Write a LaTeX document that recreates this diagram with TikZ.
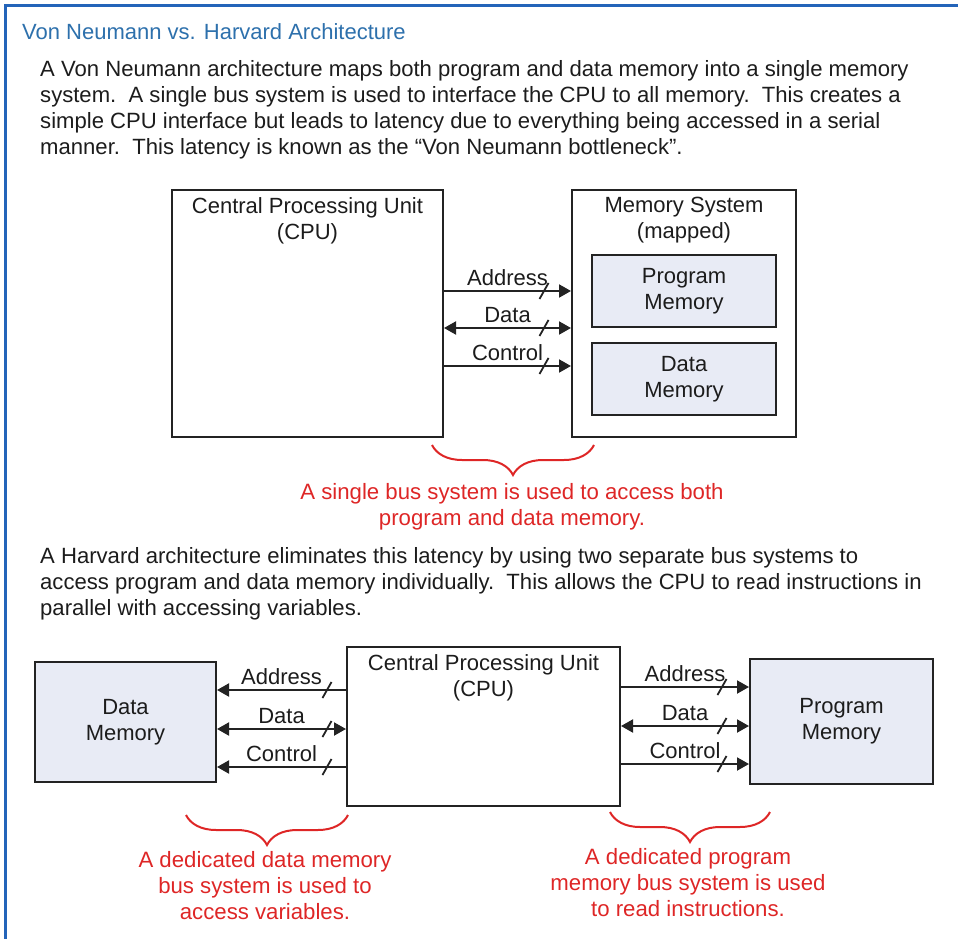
\documentclass[tikz,border=0pt]{standalone}
\usepackage{fontspec}
\setmainfont{Liberation Sans}
\usetikzlibrary{arrows.meta,decorations.pathreplacing,decorations.markings}

\definecolor{frameblue}{RGB}{35,100,185}
\definecolor{titleblue}{RGB}{45,112,172}
\definecolor{memfill}{RGB}{232,235,245}
\definecolor{bracered}{RGB}{222,38,38}
\definecolor{boxgray}{RGB}{35,35,35}
\definecolor{txtgray}{RGB}{28,28,28}

\tikzset{
  unitbox/.style={draw=boxgray, line width=2pt, inner sep=0pt},
  membox/.style={unitbox, fill=memfill, align=center, text=txtgray,
    font=\fontsize{22}{26}\selectfont},
  tip/.tip={Triangle[length=12pt,width=13pt]},
  bus/.style={draw=boxgray, line width=2pt, -tip},
  busboth/.style={bus, tip-tip},
  slashat/.style={postaction={decorate, decoration={markings,
    mark=at position #1 with {\draw[-, boxgray, line width=1.8pt] (-4.5pt,-8pt) -- (4.5pt,8pt);}}}},
  buslabel/.style={font=\fontsize{22}{26}\selectfont, text=txtgray, inner sep=0pt},
  bracebus/.style={draw=bracered, line width=2pt, decorate,
    decoration={brace, mirror, amplitude=30pt}},
  note/.style={text=bracered, align=center, inner sep=0pt, anchor=base,
    font=\fontsize{22.2}{26}\selectfont},
  para/.style={text=txtgray, align=left, inner sep=0pt, anchor=base west,
    font=\fontsize{22.1}{26}\selectfont}
}

\begin{document}
\begin{tikzpicture}[x=1pt, y=-1pt]
  \useasboundingbox (0,0) rectangle (958,939);

  % Rahmen und Titel
  \draw[frameblue, line width=3pt] (5.5,939) -- (5.5,5.5) -- (958,5.5);
  \node[anchor=base west, inner sep=0pt, text=titleblue,
    font=\fontsize{22}{26}\selectfont] (title) at (22,40)
    {Von Neumann vs. Harvard Architecture};

  % Erster Absatz (Grundlinie der letzten Zeile)
  \node[para] (vntext) at (40,154)
    {A Von Neumann architecture maps both program and data memory into a single memory\\
     system.\ \ A single bus system is used to interface the CPU to all memory.\ \ This creates a\\
     simple CPU interface but leads to latency due to everything being accessed in a serial\\
     manner.\ \ This latency is known as the “Von Neumann bottleneck”.};

  % Von-Neumann-Rechner
  \node[unitbox, minimum width=271pt, minimum height=247pt] (cpu) at (307.5,313.5) {};
  \node[buslabel, align=center, anchor=north] (cpulbl) at ([yshift=-8pt]cpu.north)
    {Central Processing Unit\\(CPU)};
  \node[unitbox, minimum width=224pt, minimum height=247pt] (memsys) at (684,313.5) {};
  \node[buslabel, align=center, anchor=north] (memlbl) at ([yshift=-8pt]memsys.north)
    {Memory System\\(mapped)};
  \node[membox, minimum width=184pt, minimum height=72pt] (progmem) at (684,291)
    {Program\\Memory};
  \node[membox, minimum width=184pt, minimum height=72pt] (datamem) at (684,379)
    {Data\\Memory};

  % Gemeinsamer Bus
  \draw[bus, slashat=-27pt] (cpu.east |- 0,291) -- (memsys.west |- 0,291)
    node[buslabel, midway, above=4pt] {Address};
  \draw[busboth, slashat=-27pt] (cpu.east |- 0,328) -- (memsys.west |- 0,328)
    node[buslabel, midway, above=4pt] {Data};
  \draw[bus, slashat=-27pt] (cpu.east |- 0,366) -- (memsys.west |- 0,366)
    node[buslabel, midway, above=4pt] {Control};

  % Klammer und Hinweis
  \draw[bracebus] (432,445) -- (594,445);
  \node[note] (vnnote) at (512,525)
    {A single bus system is used to access both\\program and data memory.};

  % Zweiter Absatz
  \node[para] (hvtext) at (40,615)
    {A Harvard architecture eliminates this latency by using two separate bus systems to\\
     access program and data memory individually.\ \ This allows the CPU to read instructions in\\
     parallel with accessing variables.};

  % Harvard-Rechner
  \node[membox, minimum width=181pt, minimum height=120pt] (hdata) at (125.5,722)
    {Data\\Memory};
  \node[unitbox, minimum width=273pt, minimum height=159pt] (hcpu) at (483.5,726.5) {};
  \node[buslabel, align=center, anchor=north] (hcpulbl) at ([yshift=-8pt]hcpu.north)
    {Central Processing Unit\\(CPU)};
  \node[membox, minimum width=183pt, minimum height=125pt] (hprog) at (841.5,721.5)
    {Program\\Memory};

  % Datenbus links
  \draw[bus, slashat=19pt] (hcpu.west |- 0,690) -- (hdata.east |- 0,690)
    node[buslabel, midway, above=4pt] {Address};
  \draw[busboth, slashat=19pt] (hcpu.west |- 0,729) -- (hdata.east |- 0,729)
    node[buslabel, midway, above=4pt] {Data};
  \draw[bus, slashat=19pt] (hcpu.west |- 0,767) -- (hdata.east |- 0,767)
    node[buslabel, midway, above=4pt] {Control};

  % Programmbus rechts
  \draw[bus, slashat=-27pt] (hcpu.east |- 0,687) -- (hprog.west |- 0,687)
    node[buslabel, midway, above=4pt] {Address};
  \draw[busboth, slashat=-27pt] (hcpu.east |- 0,726) -- (hprog.west |- 0,726)
    node[buslabel, midway, above=4pt] {Data};
  \draw[bus, slashat=-27pt] (hcpu.east |- 0,764) -- (hprog.west |- 0,764)
    node[buslabel, midway, above=4pt] {Control};

  % Klammern und Hinweise
  \draw[bracebus] (186,815) -- (348,815);
  \node[note] (datanote) at (265,919)
    {A dedicated data memory\\bus system is used to\\access variables.};
  \draw[bracebus] (610,812) -- (770,812);
  \node[note] (prognote) at (688,916)
    {A dedicated program\\memory bus system is used\\to read instructions.};
\end{tikzpicture}
\end{document}
